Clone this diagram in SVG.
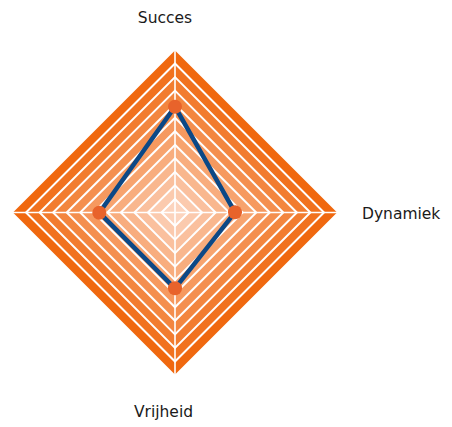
<svg xmlns="http://www.w3.org/2000/svg" width="452" height="427" viewBox="0 0 452 427">
<style>
.ring{stroke:#ffffff;stroke-width:2;stroke-linejoin:miter}
.axis{stroke:#ffffff;stroke-width:1.6}
.lbl{font-family:"DejaVu Sans","Verdana",sans-serif;font-size:15.5px;fill:#1a1a1a}
.dot{fill:#E8632B}
</style>
<rect width="452" height="427" fill="#ffffff"/>
<g id="grid" transform="translate(175,212.5)">
<polygon class="ring" fill="#F0680F" points="0,-163.5 163.5,0 0,163.5 -163.5,0"/>
<polygon class="ring" fill="#F1721F" points="0,-149 149,0 0,149 -149,0"/>
<polygon class="ring" fill="#F27C2F" points="0,-135.4 135.4,0 0,135.4 -135.4,0"/>
<polygon class="ring" fill="#F3863F" points="0,-121.9 121.9,0 0,121.9 -121.9,0"/>
<polygon class="ring" fill="#F48F4F" points="0,-108.3 108.3,0 0,108.3 -108.3,0"/>
<polygon class="ring" fill="#F6995F" points="0,-94.8 94.8,0 0,94.8 -94.8,0"/>
<polygon class="ring" fill="#F7A36E" points="0,-81.25 81.25,0 0,81.25 -81.25,0"/>
<polygon class="ring" fill="#F8AD7E" points="0,-67.7 67.7,0 0,67.7 -67.7,0"/>
<polygon class="ring" fill="#F9B78E" points="0,-54.2 54.2,0 0,54.2 -54.2,0"/>
<polygon class="ring" fill="#FAC09E" points="0,-40.6 40.6,0 0,40.6 -40.6,0"/>
<polygon class="ring" fill="#FBCAAE" points="0,-27.1 27.1,0 0,27.1 -27.1,0"/>
<polygon class="ring" fill="#FCD4BE" points="0,-13.5 13.5,0 0,13.5 -13.5,0"/>
</g>
<g id="axes">
<line class="axis" x1="175" y1="212.5" x2="175" y2="49"/>
<line class="axis" x1="175" y1="212.5" x2="339" y2="212.5"/>
<line class="axis" x1="175" y1="212.5" x2="175" y2="376"/>
<line class="axis" x1="175" y1="212.5" x2="11" y2="212.5"/>
</g>
<g id="connectors">
<polygon points="175,106.7 235,212.3 175,288.3 99.3,212.7" fill="none" stroke="#0C4886" stroke-width="4.5" stroke-linejoin="miter"/>
</g>
<g id="node-succes"><circle class="dot" cx="175" cy="106.7" r="7"/><text class="lbl" x="165" y="23" text-anchor="middle">Succes</text></g>
<g id="node-dynamiek"><circle class="dot" cx="235" cy="212.3" r="7"/><text class="lbl" x="362" y="219">Dynamiek</text></g>
<g id="node-vrijheid"><circle class="dot" cx="175" cy="288.3" r="7"/><text class="lbl" x="163.5" y="417" text-anchor="middle">Vrijheid</text></g>
<g id="node-left"><circle class="dot" cx="99.3" cy="212.7" r="7"/></g>
</svg>
